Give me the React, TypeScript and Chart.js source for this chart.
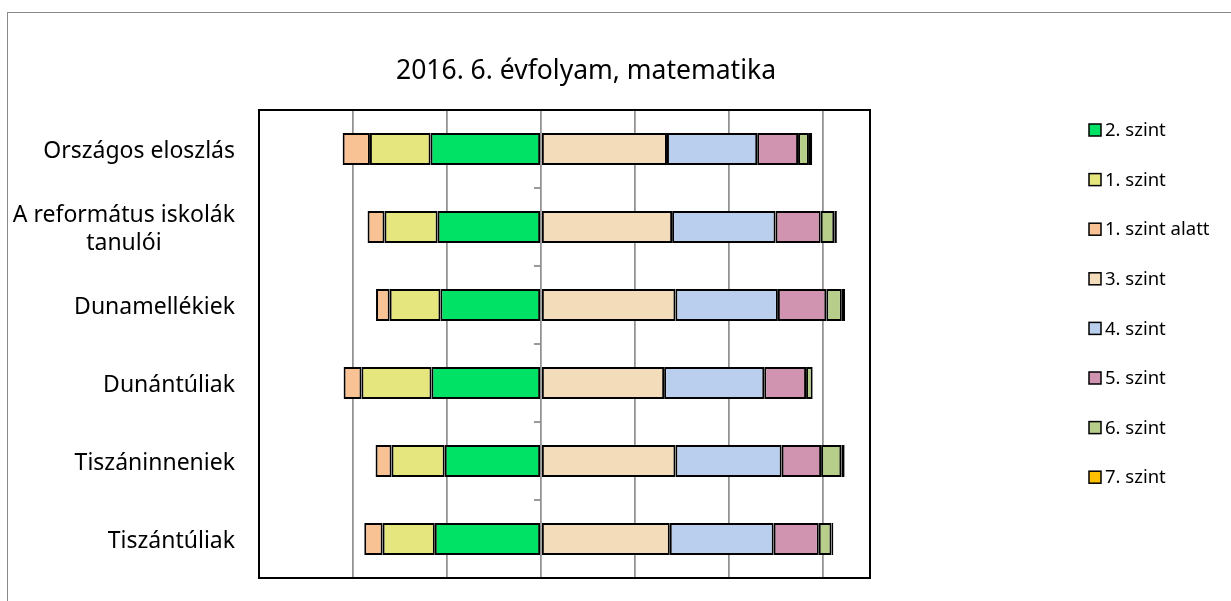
import React, { useEffect, useRef } from "react";
import { Chart, registerables } from "chart.js";

Chart.register(...registerables);

const title = "2016. 6. évfolyam, matematika";
const categories: (string | string[])[] = [
  "Országos eloszlás",
  ["A református iskolák", "tanulói"],
  "Dunamellékiek",
  "Dunántúliak",
  "Tiszáninneniek",
  "Tiszántúliak",
];

// left side (drawn to the left of zero)
const szint2 = [23.5, 22.0, 21.4, 23.3, 20.5, 22.6];
const szint1 = [12.9, 11.3, 10.8, 14.9, 11.3, 11.1];
const szint1Alatt = [5.8, 3.6, 2.9, 3.8, 3.4, 3.9];
// right side
const szint3 = [26.8, 27.9, 28.6, 26.2, 28.6, 27.4];
const szint4 = [19.2, 22.0, 21.8, 21.3, 22.6, 22.1];
const szint5 = [8.7, 9.6, 10.3, 8.9, 8.4, 9.6];
const szint6 = [2.3, 2.9, 3.3, 1.4, 4.3, 2.7];
const szint7 = [0.7, 0.55, 0.7, 0, 0.7, 0.4];

const seriesLabels = ["2. szint", "1. szint", "1. szint alatt", "3. szint", "4. szint", "5. szint", "6. szint", "7. szint"];
const seriesColors = ["#00E266", "#E6E67E", "#F9C294", "#F2DCBA", "#BACFED", "#D093B0", "#B7CE8A", "#FFC000"];

const xMin = -60;
const xMax = 70;
const xStep = 20;

const FONT = "'Noto Sans', 'Open Sans', sans-serif";

const overlay = {
  id: "overlay",
  afterDraw(chart: any) {
    const { ctx, chartArea: a, scales } = chart;
    const xs = scales.x;
    const ys = scales.y;
    ctx.save();
    // category axis small tick marks at the zero line
    const x0 = xs.getPixelForValue(0);
    ctx.strokeStyle = "#8c8c8c";
    ctx.lineWidth = 1.75;
    for (let i = 0; i <= categories.length; i++) {
      const yy = ys.getPixelForValue(i - 0.5);
      ctx.beginPath();
      ctx.moveTo(x0 - 7, yy);
      ctx.lineTo(x0, yy);
      ctx.stroke();
    }
    // plot border
    ctx.strokeStyle = "#000";
    ctx.lineWidth = 2;
    ctx.strokeRect(a.left, a.top, a.right - a.left, a.bottom - a.top);

    // category labels
    ctx.fillStyle = "#000";
    ctx.font = `23px ${FONT}`;
    ctx.textBaseline = "middle";
    ctx.textAlign = "center";
    const lh = 28;
    const rightEdge = a.left - 24;
    categories.forEach((lab, i) => {
      const lines = Array.isArray(lab) ? lab : [lab];
      const w = Math.max(...lines.map((l) => ctx.measureText(l).width));
      const cx = rightEdge - w / 2;
      const yc = ys.getPixelForValue(i) + 2;
      lines.forEach((l, j) => {
        ctx.fillText(l, cx, yc - ((lines.length - 1) * lh) / 2 + j * lh);
      });
    });

    // title
    ctx.font = `26.5px ${FONT}`;
    ctx.fillText(title, 586, 71);

    // legend
    ctx.font = `18.5px ${FONT}`;
    ctx.textAlign = "left";
    chart.data.datasets.forEach((ds: any, i: number) => {
      const yy = 130 + i * 49.6;
      ctx.fillStyle = ds.backgroundColor;
      ctx.fillRect(1089, yy - 6, 12, 12);
      ctx.strokeStyle = "#000";
      ctx.lineWidth = 1.5;
      ctx.strokeRect(1089, yy - 6, 12, 12);
      ctx.fillStyle = "#000";
      ctx.fillText(ds.label, 1105, yy + 1);
    });
    ctx.restore();
  },
};

export default function App() {
  const ref = useRef<HTMLCanvasElement | null>(null);
  useEffect(() => {
    if (!ref.current) return;
    const all = [szint2, szint1, szint1Alatt, szint3, szint4, szint5, szint6, szint7];
    const datasets = all.map((arr, i) => ({
      label: seriesLabels[i],
      data: i < 3 ? arr.map((v) => -v) : arr.slice(),
      backgroundColor: seriesColors[i],
      borderColor: "#000",
      borderWidth: 2,
      borderSkipped: false as const,
      barPercentage: 0.41,
      categoryPercentage: 1,
    }));
    const chart = new Chart(ref.current, {
      type: "bar",
      data: {
        labels: categories.map((c) => (Array.isArray(c) ? c.join(" ") : c)),
        datasets,
      },
      options: {
        indexAxis: "y",
        responsive: false,
        animation: false,
        layout: { padding: { left: 259, right: 361, top: 110, bottom: 23 } },
        plugins: { legend: { display: false }, title: { display: false }, tooltip: { enabled: false } },
        scales: {
          x: {
            stacked: true,
            min: xMin,
            max: xMax,
            ticks: { display: false, stepSize: xStep },
            grid: { color: "#919191", lineWidth: 1.75, drawTicks: false },
            border: { display: false },
          },
          y: {
            stacked: true,
            display: false,
          },
        },
      },
      plugins: [overlay],
    });
    return () => chart.destroy();
  }, []);
  return (
    <div style={{ position: "fixed", left: 0, top: 0, width: 1231, height: 601, overflow: "hidden", background: "#fff" }}>
      <div
        style={{
          position: "absolute",
          left: 7,
          top: 12,
          width: 1240,
          height: 700,
          borderTop: "1.5px solid #8a8a8a",
          borderLeft: "1.5px solid #8a8a8a",
        }}
      />
      <canvas ref={ref} width={1231} height={601} style={{ position: "absolute", left: 0, top: 0 }} />
    </div>
  );
}
